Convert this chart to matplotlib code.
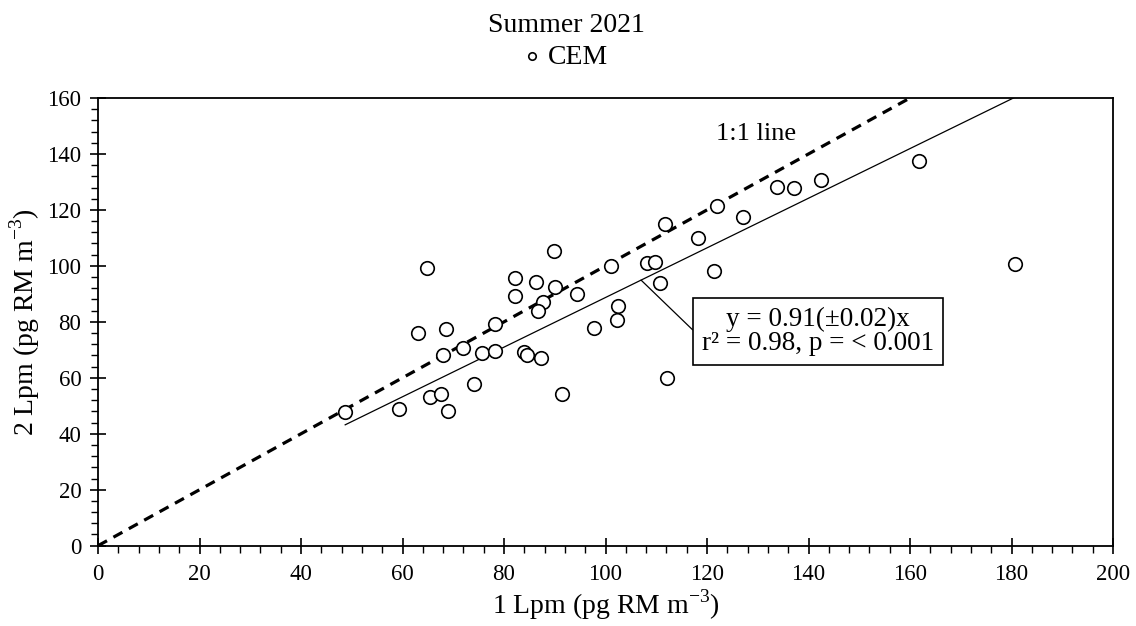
import numpy as np
import matplotlib
matplotlib.use('Agg')
import matplotlib.pyplot as plt
from matplotlib.ticker import MultipleLocator

plt.rcParams['font.family'] = ['Liberation Serif', 'DejaVu Serif']
plt.rcParams['mathtext.fontset'] = 'custom'
plt.rcParams['mathtext.rm'] = 'Liberation Serif'

# CEM, summer 2021: 1 Lpm vs 2 Lpm (pg RM m-3)
lpm1 = [48.7, 59.4, 65.5, 67.5, 69.0, 74.0, 91.4, 64.8, 89.8, 82.2, 86.3, 90.1,
        94.3, 82.2, 87.7, 86.6, 101.1, 108.2, 109.7, 110.7, 102.4, 102.2, 97.7,
        78.2, 68.6, 63.0, 72.0, 68.0, 75.7, 78.2, 83.9, 84.5, 87.2, 112.2, 118.3,
        161.8, 133.7, 137.1, 142.5, 121.9, 111.7, 127.1, 121.3, 180.7]
lpm2 = [47.9, 48.9, 53.1, 54.2, 48.3, 57.8, 54.2, 99.1, 105.4, 95.5, 94.3, 92.5,
        89.8, 89.3, 87.1, 84.0, 100.1, 100.9, 101.5, 93.9, 85.7, 80.7, 77.7,
        79.4, 77.3, 75.9, 70.7, 68.0, 68.9, 69.5, 69.2, 68.3, 66.9, 59.9, 109.9,
        137.5, 128.3, 127.7, 130.6, 121.4, 115.1, 117.3, 98.3, 100.7]

fit_slope = 0.887
fit_text = 'y = 0.91(\u00b10.02)x\nr\u00b2 = 0.98, p = < 0.001'

fig = plt.figure(figsize=(11.36, 6.26), dpi=100)
ax = fig.add_axes([0.0863, 0.1283, 0.8935, 0.7152])

ax.scatter(lpm1, lpm2, s=95, facecolors='white', edgecolors='black',
           linewidths=1.2, zorder=3, label='CEM')

# 1:1 line
one = np.array([0, 200])
ax.plot(one, one, color='black', lw=2.3, ls=(0, (3.2, 2.3)), zorder=2)
ax.text(121.7, 147.3, '1:1 line', fontsize=19, va='center', ha='left')

# regression line over the data range
fx = np.array([min(lpm1), max(lpm1)])
ax.plot(fx, fit_slope * fx, color='black', lw=0.9, zorder=2)

xa = 107.0
ax.annotate(fit_text, xy=(xa, fit_slope * xa), xytext=(141.9, 76.5),
            fontsize=19.5, ha='center', va='center', linespacing=0.95,
            bbox=dict(boxstyle='square,pad=0.33', fc='white', ec='black', lw=1.2),
            arrowprops=dict(arrowstyle='-', color='black', lw=0.9,
                            relpos=(0, 0.35), shrinkA=0, shrinkB=0))

ax.set_xlim(0, 200)
ax.set_ylim(0, 160)
ax.xaxis.set_major_locator(MultipleLocator(20))
ax.xaxis.set_minor_locator(MultipleLocator(4))
ax.yaxis.set_major_locator(MultipleLocator(20))
ax.yaxis.set_minor_locator(MultipleLocator(4))
ax.tick_params(which='major', direction='inout', length=12, width=1.2,
               labelsize=16.5)
ax.tick_params(axis='x', which='major', pad=7)
ax.tick_params(axis='y', which='major', pad=6)
ax.tick_params(which='minor', direction='out', length=5, width=1.0)
for s in ax.spines.values():
    s.set_linewidth(1.3)

ax.set_xlabel('1 Lpm (pg RM m$^{-3}$)', fontsize=20, labelpad=2)
ax.set_ylabel('2 Lpm (pg RM m$^{-3}$)', fontsize=20, labelpad=4)

fig.text(566 / 1136, 1 - 25 / 626, 'Summer 2021', fontsize=20,
         ha='center', va='center')
ax.legend(loc='center', bbox_to_anchor=(563 / 1136, 1 - 57 / 626),
          bbox_transform=fig.transFigure, frameon=False, fontsize=20,
          markerscale=0.55, handletextpad=0.1, handlelength=1.0,
          borderpad=0, borderaxespad=0)

fig.savefig('out.png', dpi=100)
